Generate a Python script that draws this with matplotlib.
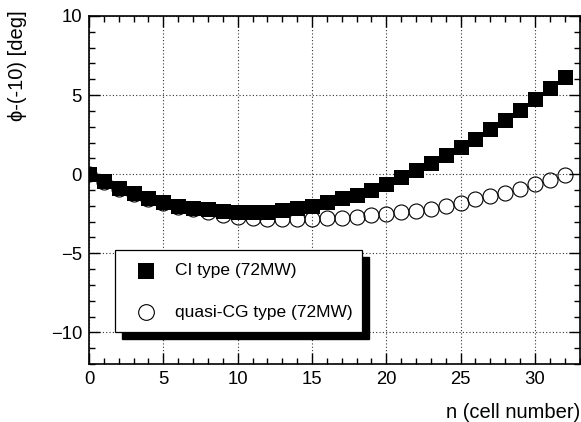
import matplotlib
matplotlib.use("Agg")
import matplotlib.pyplot as plt
from matplotlib.patches import Rectangle
from matplotlib.lines import Line2D
from matplotlib.ticker import MultipleLocator

plt.rcParams['font.family'] = ['Liberation Sans', 'DejaVu Sans']

n_cell = list(range(33))
ci_type = [0.0, -0.46, -0.87, -1.19, -1.5, -1.75, -2.0, -2.14, -2.22, -2.34,
           -2.4, -2.4, -2.36, -2.26, -2.15, -2.0, -1.79, -1.52, -1.31, -0.99,
           -0.61, -0.2, 0.25, 0.72, 1.2, 1.69, 2.25, 2.83, 3.42, 4.05,
           4.74, 5.42, 6.14]
quasi_cg = [0.0, -0.5, -0.92, -1.27, -1.6, -1.85, -2.06, -2.23, -2.42, -2.58,
            -2.68, -2.76, -2.82, -2.85, -2.86, -2.85, -2.8, -2.75, -2.68, -2.6,
            -2.52, -2.42, -2.31, -2.17, -2.0, -1.81, -1.6, -1.39, -1.16, -0.91,
            -0.65, -0.38, -0.06]
labels = ["CI type (72MW)", "quasi-CG type (72MW)"]
xlabel = "n (cell number)"
ylabel = "\u03d5-(-10) [deg]"

W, H = 581, 422
fig = plt.figure(figsize=(W / 100, H / 100), dpi=100)
ax = fig.add_axes([89 / W, 1 - 364 / H, (579.5 - 89) / W, (364 - 16) / H])

ax.set_xlim(0, 33)
ax.set_ylim(-12, 10)
ax.xaxis.set_major_locator(MultipleLocator(5))
ax.xaxis.set_minor_locator(MultipleLocator(1))
ax.yaxis.set_major_locator(MultipleLocator(5))
ax.yaxis.set_minor_locator(MultipleLocator(1))
ax.tick_params(which='both', direction='in', top=True, right=True,
               labelsize=13.3, width=1.0)
ax.tick_params(which='major', length=8, pad=5)
ax.tick_params(which='minor', length=4.5)
for s in ax.spines.values():
    s.set_linewidth(1.2)
ax.grid(True, which='major', color='#333333', linestyle=(0, (1, 2)), linewidth=0.8)
ax.set_axisbelow(True)

ax.plot(n_cell, quasi_cg, linestyle='none', marker='o', markersize=10.8,
        markerfacecolor='none', markeredgecolor='black', markeredgewidth=0.8, zorder=3)
ax.plot(n_cell, ci_type, linestyle='none', marker='s', markersize=10.8,
        markerfacecolor='black', markeredgecolor='black', markeredgewidth=0, zorder=4)

fig.text(580 / W, 1 - 412 / H, xlabel, ha='right', va='center', fontsize=14.5)
fig.text(18 / W, 1 - 10 / H, ylabel, ha='center', va='top', rotation=90, fontsize=14.5)

# legend with shadow
lx0, lx1, ly0, ly1 = 115, 362, 250, 332
off = 7
fig.add_artist(Rectangle(((lx0 + off) / W, 1 - (ly1 + off) / H), (lx1 - lx0) / W,
                         (ly1 - ly0) / H, transform=fig.transFigure,
                         facecolor='black', edgecolor='black', zorder=10))
fig.add_artist(Rectangle((lx0 / W, 1 - ly1 / H), (lx1 - lx0) / W, (ly1 - ly0) / H,
                         transform=fig.transFigure, facecolor='white',
                         edgecolor='black', linewidth=0.9, zorder=11))
fig.add_artist(Line2D([146 / W], [1 - 271 / H], transform=fig.transFigure,
                      marker='s', markersize=11.3, markerfacecolor='black',
                      markeredgewidth=0, linestyle='none', zorder=12))
fig.add_artist(Line2D([146 / W], [1 - 312 / H], transform=fig.transFigure,
                      marker='o', markersize=11.3, markerfacecolor='none',
                      markeredgecolor='black', markeredgewidth=0.8,
                      linestyle='none', zorder=12))
fig.text(175 / W, 1 - 271 / H, labels[0], ha='left', va='center', fontsize=12.5, zorder=12)
fig.text(175 / W, 1 - 312 / H, labels[1], ha='left', va='center', fontsize=12.5, zorder=12)

fig.savefig("out.png", dpi=100)
